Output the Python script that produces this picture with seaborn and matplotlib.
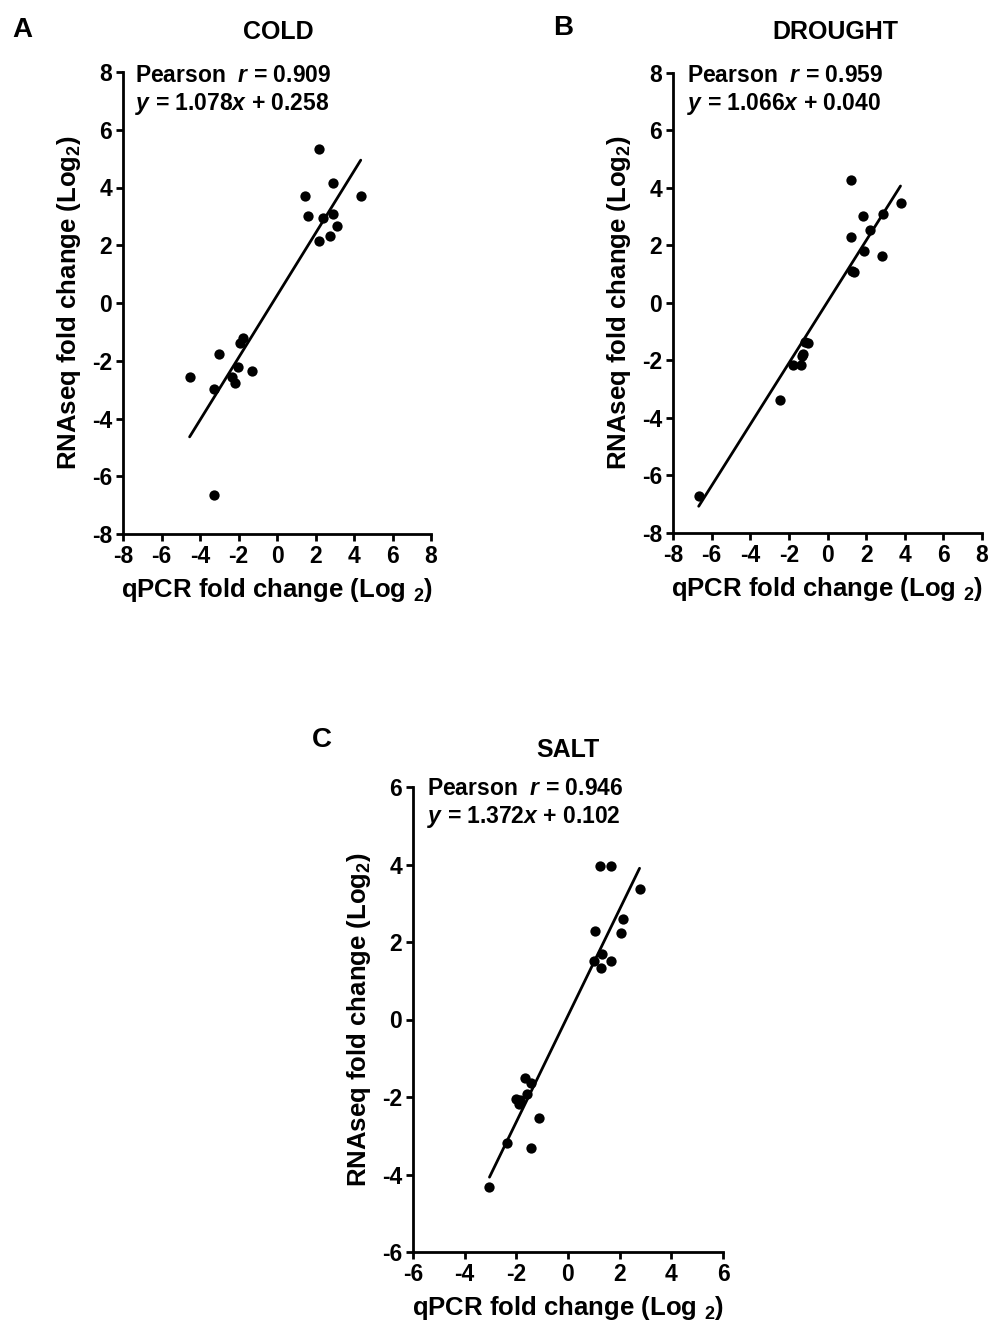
import matplotlib
matplotlib.use("Agg")
import matplotlib.pyplot as plt
import seaborn as sns
import numpy as np
import pandas as pd

# ---------------- data ----------------
cold_x = [2.18, 2.90, 1.45, 4.35, 1.59, 2.38, 2.93, 3.11, 2.76, 2.18,
          -1.76, -1.94, -3.02, -4.54, -3.25, -2.02, -1.30, -2.33, -2.16, -3.25]
cold_y = [5.32, 4.15, 3.69, 3.71, 3.03, 2.94, 3.08, 2.66, 2.31, 2.14,
          -1.20, -1.40, -1.77, -2.57, -2.98, -2.21, -2.34, -2.57, -2.78, -6.66]

drought_x = [1.24, 3.78, 1.83, 2.89, 2.19, 1.24, 1.88, 2.83, 1.36, 1.28,
             -1.14, -1.02, -1.26, -1.31, -1.78, -1.36, -2.44, -6.67]
drought_y = [4.29, 3.48, 3.04, 3.11, 2.55, 2.31, 1.81, 1.65, 1.07, 1.13,
             -1.35, -1.39, -1.78, -1.86, -2.16, -2.16, -3.37, -6.71]

salt_x = [1.25, 1.68, 2.77, 2.13, 2.05, 1.03, 1.33, 0.99, 1.67, 1.29,
          -1.68, -1.42, -1.59, -2.02, -1.85, -1.91, -1.14, -2.36, -1.42, -3.04]
salt_y = [3.97, 3.97, 3.37, 2.60, 2.24, 2.28, 1.70, 1.50, 1.50, 1.32,
          -1.50, -1.63, -1.91, -2.06, -2.08, -2.18, -2.55, -3.18, -3.31, -4.32]

titles = ["COLD", "DROUGHT", "SALT"]
letters = ["A", "B", "C"]
pearson_r = ["0.909", "0.959", "0.946"]
slopes = [1.078, 1.066, 1.372]
intercepts = [0.258, 0.040, 0.102]
lims = [8, 8, 6]

# ---------------- style ----------------
sns.set_theme(style="ticks")
plt.rcParams['font.family'] = ['Liberation Sans', 'DejaVu Sans']
plt.rcParams['font.weight'] = 'bold'
plt.rcParams['axes.labelweight'] = 'bold'
plt.rcParams['text.color'] = 'black'
plt.rcParams['axes.labelcolor'] = 'black'
plt.rcParams['xtick.color'] = 'black'
plt.rcParams['ytick.color'] = 'black'
plt.rcParams['mathtext.fontset'] = 'custom'
plt.rcParams['mathtext.rm'] = 'Liberation Sans:bold'
plt.rcParams['mathtext.bf'] = 'Liberation Sans:bold'
plt.rcParams['mathtext.it'] = 'Liberation Sans:bold:italic'

W, H = 992, 1322
fig = plt.figure(figsize=(W / 100, H / 100), dpi=100)

# axes boxes in pixel coords: (left, top, right, bottom)
boxes = [(123, 72, 431, 534), (673, 73, 982, 533), (413, 787, 723, 1252)]
title_pos = [(278, 32), (835, 32), (568, 750)]
letter_pos = [(22, 30), (563, 28), (322, 740)]
text_pos = [(135, 75), (687, 75), (427, 788)]

datasets = [(cold_x, cold_y), (drought_x, drought_y), (salt_x, salt_y)]

for i, (xs, ys) in enumerate(datasets):
    l, t, r, b = boxes[i]
    ax = fig.add_axes([l / W, 1 - b / H, (r - l) / W, (b - t) / H])
    df = pd.DataFrame({"x": xs, "y": ys})
    sns.scatterplot(data=df, x="x", y="y", ax=ax, color="black", s=55,
                    edgecolor="black", linewidth=0, zorder=3)
    xmin, xmax = min(xs), max(xs)
    line_df = pd.DataFrame({"x": [xmin, xmax],
                            "y": [slopes[i] * xmin + intercepts[i],
                                  slopes[i] * xmax + intercepts[i]]})
    sns.lineplot(data=line_df, x="x", y="y", ax=ax, color="black", linewidth=2.0)
    lim = lims[i]
    ax.set_xlim(-lim, lim)
    ax.set_ylim(-lim, lim)
    ticks = np.arange(-lim, lim + 1, 2)
    ax.set_xticks(ticks)
    ax.set_yticks(ticks)
    ax.set_xticklabels([str(v) for v in ticks])
    ax.set_yticklabels([str(v) for v in ticks])
    sns.despine(ax=ax)
    for sp in ["left", "bottom"]:
        ax.spines[sp].set_linewidth(2.0)
        ax.spines[sp].set_color("black")
    ax.tick_params(direction="out", length=5, width=2.0, colors="black",
                   labelsize=16.5, pad=3)
    for lab in ax.get_xticklabels() + ax.get_yticklabels():
        lab.set_fontweight("bold")
        lab.set_color("black")
    ax.set_xlabel(r"qPCR fold change (Log $_2$)", fontsize=18.5,
                  fontweight="bold", labelpad=6, color="black")
    ax.set_ylabel(r"RNAseq fold change (Log$_2$)", fontsize=18.5,
                  fontweight="bold", labelpad=6, color="black")

    tx, ty = title_pos[i]
    fig.text(tx / W, 1 - ty / H, titles[i], ha="center", va="center",
             fontsize=18, fontweight="bold", color="black")
    lx, ly = letter_pos[i]
    fig.text(lx / W, 1 - ly / H, letters[i], ha="center", va="center",
             fontsize=20, fontweight="bold", color="black")
    px, py = text_pos[i]
    fig.text(px / W, 1 - py / H, r"Pearson  $r$ = " + pearson_r[i],
             ha="left", va="center", fontsize=16.5, fontweight="bold",
             color="black")
    fig.text(px / W, 1 - (py + 29) / H,
             r"$y$ = %.3f$x$ + %.3f" % (slopes[i], intercepts[i]),
             ha="left", va="center", fontsize=16.5, fontweight="bold",
             color="black")

fig.savefig("out.png", dpi=100)
